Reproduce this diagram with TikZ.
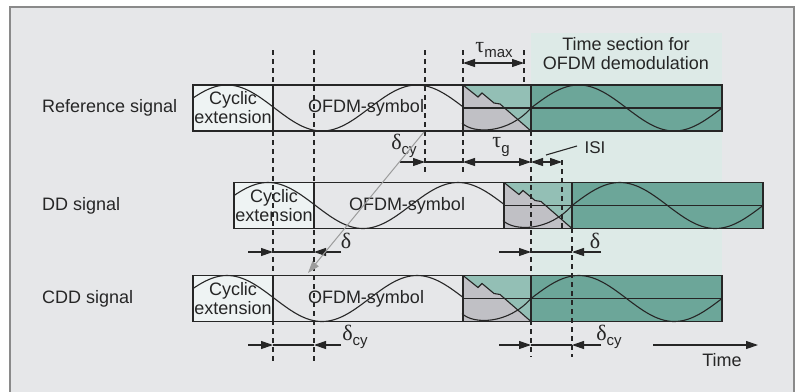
\documentclass[tikz,border=0pt]{standalone}
\usepackage{fontspec}
\setmainfont{Liberation Sans}
\newfontfamily\grkfont{Liberation Serif}
\usetikzlibrary{arrows.meta, calc}
\definecolor{framegray}{HTML}{E6E7E9}
\definecolor{framedraw}{HTML}{8A8A8A}
\definecolor{cegray}{HTML}{EEF3F3}
\definecolor{isigray}{HTML}{C0C0C5}
\definecolor{lteal}{HTML}{93BFB5}
\definecolor{dteal}{HTML}{6CA699}
\definecolor{winteal}{HTML}{DDEAE7}
\definecolor{inkgray}{HTML}{262626}
\definecolor{pointgray}{HTML}{9C9C9C}

\newcommand{\grk}[1]{{\grkfont\fontsize{22}{22}\selectfont #1}}
\newcommand{\lowsub}[1]{\raisebox{-0.55ex}{\fontsize{15}{15}\selectfont #1}}

\begin{document}
\begin{tikzpicture}[x=1pt, y=-1pt,
    lbl/.style={font=\fontsize{18}{19}\selectfont, text=inkgray, inner sep=0pt, align=center},
    rowlbl/.style={font=\fontsize{18}{19}\selectfont, text=inkgray, inner sep=0pt, anchor=west},
    box/.style={draw=inkgray, line width=1.4pt},
    guide/.style={draw=inkgray, line width=1.1pt, dash pattern=on 5pt off 4pt},
    wave/.style={draw=inkgray, line width=1.1pt},
    dim/.style={draw=inkgray, line width=1.1pt, -{Triangle[length=12pt, width=8pt]}},
    dimboth/.style={draw=inkgray, line width=1.1pt,
        {Triangle[length=12pt, width=8pt]}-{Triangle[length=12pt, width=8pt]}},
    pointer/.style={draw=pointgray, line width=1pt, -{Triangle[length=12pt, width=8pt]}}
]
\useasboundingbox (0,0) rectangle (797,391);
\draw[draw=framedraw, line width=1.6pt, fill=framegray] (10,7) rectangle (794,400);

% time section for demodulation
\fill[winteal] (531,33) rectangle (722,275);
\node[lbl] (window) at (626,54) {Time section for\\OFDM demodulation};

% the three signals
\foreach \dx/\yc/\n in {0/108/ref, 41/205.5/dd, 0/298.5/cdd} {
  \begin{scope}[shift={(193+\dx,\yc)}]
    \fill[cegray] (0,-23) rectangle (80,23);
    \fill[lteal] (270,-23) rectangle (338,23);
    \fill[isigray] (270,-23) -- (285,-11) -- (289,-15) -- (301,-5) -- (307,-4)
      -- (338,23) -- (270,23) -- cycle;
    \fill[dteal] (338,-23) rectangle (529,23);
    \draw[wave] (270,-23) -- (285,-11) -- (289,-15) -- (301,-5) -- (307,-4) -- (338,23);
    \draw[wave] (270,0) -- (529,0);
    \draw[wave] plot[domain=0:270, samples=90, smooth] (\x, {-23*sin(((\x+13.5)/190)*360)});
    \draw[wave] (269,15) .. controls (280,26) and (315,26) .. (338,0);
    \draw[wave] plot[domain=338:529, samples=70, smooth] (\x, {-23*sin(((\x-338)/191)*360)});
    \draw[box] (0,-23) rectangle (529,23);
    \draw[box] (80,-23) -- (80,23) (270,-23) -- (270,23) (338,-23) -- (338,23);
    \node[lbl] (ce-\n) at (40,0) {Cyclic\\extension};
    \node[lbl] (sym-\n) at (173,0) {OFDM-symbol};
  \end{scope}
}

\node[rowlbl] (name-ref) at (42,108) {Reference signal};
\node[rowlbl] (name-dd) at (42,205.5) {DD signal};
\node[rowlbl] (name-cdd) at (42,298.5) {CDD signal};

% guide lines
\draw[guide] (273,50) -- (273,362);
\draw[guide] (314,50) -- (314,362);
\draw[guide] (425,50) -- (425,173);
\draw[guide] (463,50) -- (463,173);
\draw[guide] (524,50) -- (524,85);
\draw[guide] (531,131) -- (531,357);
\draw[guide] (562,160) -- (562,228);
\draw[guide] (572,228) -- (572,357);

% delays
\draw[dimboth] (463,63) -- (524,63);
\node[lbl] (taumax) at (494,50) {\grk{τ}\lowsub{max}};

\draw[dim] (400,162) -- (425,162);
\draw[wave] (425,162) -- (463,162);
\draw[dimboth] (463,162) -- (531,162);
\draw[dimboth] (531,162) -- (562,162);
\node[lbl] (dcy-ref) at (404,146) {\grk{δ}\lowsub{cy}};
\node[lbl] (taug) at (501,147) {\grk{τ}\lowsub{g}};
\node[lbl, font=\fontsize{17}{17}\selectfont] (isi) at (595,148) {ISI};
\draw[wave] (546,155) -- (577,146);

\foreach \yy in {252,345} {
  \draw[dim] (248,\yy) -- (273,\yy);
  \draw[wave] (273,\yy) -- (314,\yy);
  \draw[dim] (341,\yy) -- (314,\yy);
  \draw[dim] (499,\yy) -- (531,\yy);
  \draw[wave] (531,\yy) -- (572,\yy);
  \draw[dim] (601,\yy) -- (572,\yy);
}
\node[lbl] (d-left) at (346,241) {\grk{δ}};
\node[lbl] (d-right) at (595,241) {\grk{δ}};
\node[lbl] (dcy-left) at (355,337) {\grk{δ}\lowsub{cy}};
\node[lbl] (dcy-right) at (609,337) {\grk{δ}\lowsub{cy}};

\draw[pointer] (424,132) -- (308,273);

\draw[dim] (653,345) -- (758,345);
\node[lbl] (time) at (722,360) {Time};
\end{tikzpicture}
\end{document}
